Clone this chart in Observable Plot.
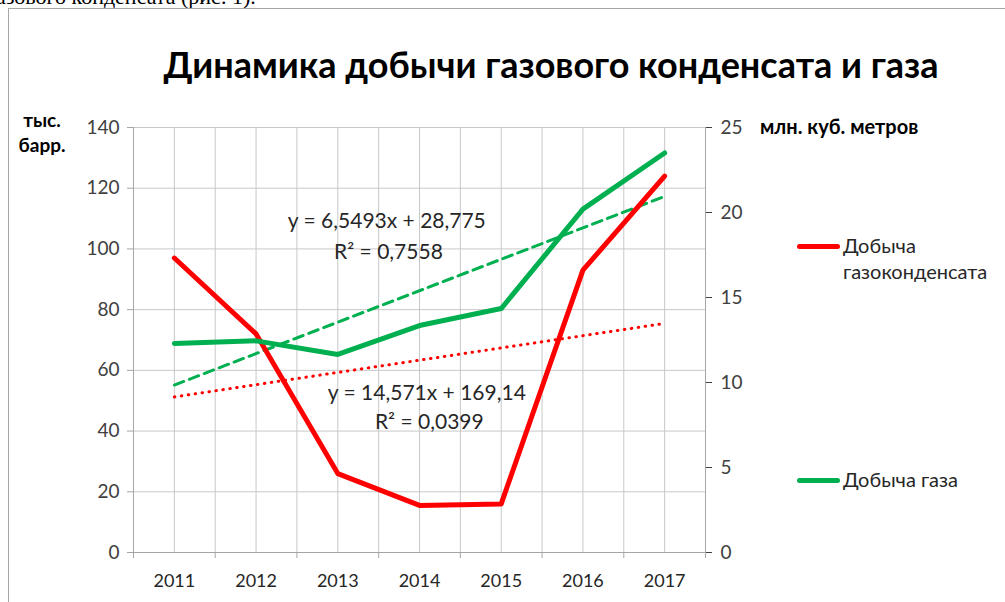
<!DOCTYPE html>
<html><head><meta charset="utf-8">
<script src="https://cdn.jsdelivr.net/npm/d3@7"></script>
<script src="https://cdn.jsdelivr.net/npm/@observablehq/plot@0.6"></script>
<style>
html,body{margin:0;padding:0;background:#fff;width:1005px;height:602px;overflow:hidden;position:relative;font-family:Lato,"Open Sans",sans-serif;}
#top{position:absolute;left:-13px;top:-16px;font-family:"Liberation Serif",serif;font-size:22px;color:#000;white-space:nowrap;}
#box{position:absolute;left:8px;top:8px;width:1100px;height:700px;border:1px solid #a6a6a6;}
#title{position:absolute;left:0;width:1102px;top:42px;text-align:center;font-weight:bold;font-size:36px;color:#000;}
#chart{position:absolute;left:0;top:0;}
.lbl{position:absolute;font-weight:bold;font-size:19px;color:#000;line-height:25px;}
.leg{position:absolute;font-size:20px;color:#262626;line-height:26px;}
.leg .sw{position:absolute;left:-46px;top:12px;width:43px;height:5px;border-radius:3px;}
</style></head>
<body>
<div id="top">газового конденсата (рис. 1).</div>
<div id="box"></div>
<div id="title">Динамика добычи газового конденсата и газа</div>
<div id="chart"></div>
<div class="lbl" style="left:14px;top:107px;text-align:center;width:56px">тыс.<br>барр.</div>
<div class="lbl" style="left:760px;top:114px;font-size:20px">млн. куб. метров</div>
<div class="leg" style="left:843px;top:232px;"><span class="sw" style="background:#ff0000"></span>Добыча<br>газоконденсата</div>
<div class="leg" style="left:843px;top:466px;"><span class="sw" style="background:#00b050"></span>Добыча газа</div>
<script>
const years = [2011, 2012, 2013, 2014, 2015, 2016, 2017];
const condensate = [97, 72, 26, 15.5, 16, 93, 124];          // тыс. барр. (left axis)
const gas = [12.3, 12.45, 11.65, 13.35, 14.35, 20.2, 23.5];  // млн. куб. метров (right axis)
const leftTicks = [0, 20, 40, 60, 80, 100, 120, 140];
const rightTicks = [0, 5, 10, 15, 20, 25];
const eqLabels = [
  {x: 2013.6, y: 109, text: "y = 6,5493x + 28,775"},
  {x: 2013.62, y: 99, text: "R² = 0,7558"},
  {x: 2014.09, y: 52.5, text: "y = 14,571x + 169,14"},
  {x: 2014.12, y: 43, text: "R² = 0,0399"}
];
const ratio = 140 / 25;

const redData = years.map((x, i) => ({x, y: condensate[i]}));
const greenData = years.map((x, i) => ({x, y: gas[i] * ratio}));
const gridXs = d3.range(2010.5, 2017.51, 0.5);
const bandEdges = d3.range(2010.5, 2017.51, 1);

const chart = Plot.plot({
  width: 1005, height: 602,
  marginLeft: 133, marginRight: 300, marginTop: 127, marginBottom: 50,
  style: {fontFamily: "Lato, 'Open Sans', sans-serif", background: "transparent", overflow: "visible"},
  x: {type: "linear", domain: [2010.5, 2017.5]},
  y: {type: "linear", domain: [0, 140]},
  marks: [
    Plot.ruleX(gridXs, {stroke: "#c8c8c8", strokeWidth: 1}),
    Plot.ruleY(leftTicks, {stroke: "#c8c8c8", strokeWidth: 1}),
    Plot.ruleX([2010.5, 2017.5], {stroke: "#a6a6a6"}),
    Plot.ruleY([0], {stroke: "#a6a6a6"}),
    Plot.axisX({ticks: bandEdges, tickSize: 6, tickFormat: () => "", stroke: "#a6a6a6", label: null}),
    Plot.axisY({ticks: leftTicks, tickSize: 6, tickPadding: 8, fontSize: 19, color: "#404040", stroke: "#a6a6a6", label: null}),
    Plot.axisY({anchor: "right", ticks: rightTicks.map(v => v * ratio), tickFormat: v => String(Math.round(v / ratio)), tickSize: 6, tickPadding: 9, fontSize: 19, color: "#404040", label: null}),
    Plot.axisX({ticks: years, tickSize: 0, tickPadding: 22, tickFormat: d => String(d), fontSize: 18, color: "#262626", label: null}),
    Plot.linearRegressionY(redData, {x: "x", y: "y", ci: 0, stroke: "#ff0000", strokeWidth: 3, strokeDasharray: "0.5,6.5", strokeLinecap: "round"}),
    Plot.linearRegressionY(greenData, {x: "x", y: "y", ci: 0, stroke: "#00b050", strokeWidth: 3, strokeDasharray: "10,6"}),
    Plot.line(redData, {x: "x", y: "y", stroke: "#ff0000", strokeWidth: 5, strokeLinejoin: "round"}),
    Plot.line(greenData, {x: "x", y: "y", stroke: "#00b050", strokeWidth: 5, strokeLinejoin: "round"}),
    Plot.text(eqLabels, {x: "x", y: "y", text: "text", fontSize: 21, fill: "#262626"})
  ]
});
document.getElementById("chart").appendChild(chart);
</script>
</body></html>
